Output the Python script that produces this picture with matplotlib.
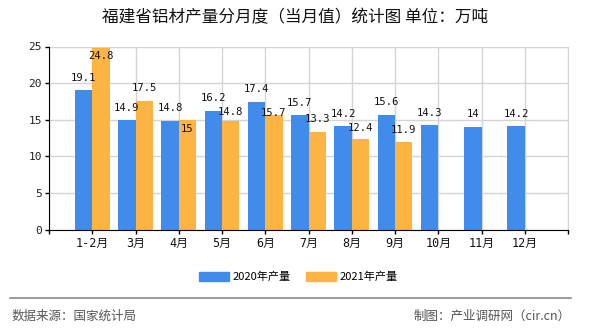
import numpy as np
import matplotlib
matplotlib.use("Agg")
import matplotlib.pyplot as plt
from matplotlib.lines import Line2D

plt.rcParams['font.family'] = ['Noto Sans CJK SC', 'DejaVu Sans']

# data
months = ["1-2月", "3月", "4月", "5月", "6月", "7月", "8月", "9月", "10月", "11月", "12月"]
prod_2020 = [19.1, 14.9, 14.8, 16.2, 17.4, 15.7, 14.2, 15.6, 14.3, 14, 14.2]
prod_2021 = [24.8, 17.5, 15, 14.8, 15.7, 13.3, 12.4, 11.9]

# label shifts in pixels (centre of text above bar top)
shift_2020 = [12, 12, 13, 13, 13, 12, 12, 13, 12, 13, 12]
shift_2021 = [-8, 13, -9, 9, 2, 13, 11, 12]

blue = "#418ceb"
orange = "#fdb443"
mono = ['DejaVu Sans Mono', 'Noto Sans CJK SC']

fig = plt.figure(figsize=(5.9, 3.3), dpi=100)
ax = fig.add_axes([49 / 590, 1 - 229.5 / 330, 519 / 590, 183 / 330])

x = np.arange(len(months))
w = 0.4
ax.bar(x[:len(prod_2020)] - w / 2, prod_2020, w, color=blue, zorder=3)
ax.bar(x[:len(prod_2021)] + w / 2, prod_2021, w, color=orange, zorder=3)

def fmt(v):
    return ("%g" % v)

for i, v in enumerate(prod_2020):
    ax.annotate(fmt(v), (x[i] - w / 2, v), xytext=(0, shift_2020[i]),
                textcoords='offset pixels', ha='center', va='center',
                fontsize=7.6, family=mono, color='#111111', zorder=5)
for i, v in enumerate(prod_2021):
    ax.annotate(fmt(v), (x[i] + w / 2, v), xytext=(0, shift_2021[i]),
                textcoords='offset pixels', ha='center', va='center',
                fontsize=7.6, family=mono, color='#111111', zorder=5)

ax.set_xlim(-1, len(months))
ax.set_ylim(0, 25)
ax.set_yticks([0, 5, 10, 15, 20, 25])
ax.set_yticklabels(["0", "5", "10", "15", "20", "25"], family=mono, fontsize=8, color='#222222')
ax.set_xticks(np.arange(-1, len(months) + 1))
ax.set_xticklabels([""] + months + [""], family=mono, fontsize=8.5, color='#111111')
ax.tick_params(axis='both', length=3, width=1, color='black', pad=2)

ax.grid(True, color='#d4d4d4', linewidth=1, zorder=0)
ax.set_axisbelow(True)
for s in ['top', 'right']:
    ax.spines[s].set_color('#d4d4d4')
for s in ['left', 'bottom']:
    ax.spines[s].set_color('black')
    ax.spines[s].set_zorder(4)

fig.text(0.5, 1 - 18 / 330, "福建省铝材产量分月度（当月值）统计图 单位：万吨",
         ha='center', va='center', fontsize=12, color='#111111')

handles = [plt.Rectangle((0, 0), 1, 1, color=blue), plt.Rectangle((0, 0), 1, 1, color=orange)]
fig.legend(handles, ["2020年产量", "2021年产量"], loc='center', bbox_to_anchor=(0.505, 1 - 277 / 330),
           ncol=2, frameon=False, fontsize=8, handlelength=2.7, handleheight=0.9,
           handletextpad=0.3, columnspacing=1.4)

fig.add_artist(Line2D([10 / 590, 571 / 590], [1 - 298 / 330, 1 - 298 / 330],
                      color='#8a8a8a', linewidth=1.2))
fig.text(12 / 590, 1 - 316 / 330, "数据来源：国家统计局", ha='left', va='center',
         fontsize=9, color='#555555')
fig.text(571 / 590, 1 - 316 / 330, "制图：产业调研网（cir.cn）", ha='right', va='center',
         fontsize=9, color='#555555', family=['Noto Sans CJK SC', 'DejaVu Sans Mono'])

fig.savefig("out.png", dpi=100)
